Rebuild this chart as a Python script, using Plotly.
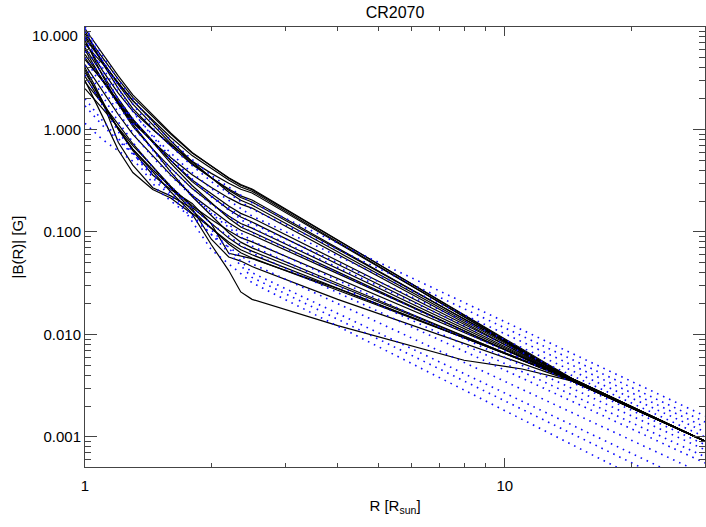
import math
import plotly.graph_objects as go

# ---- data ----
R_BLACK = [1.0, 1.05, 1.1, 1.2, 1.3, 1.45, 1.6, 1.8, 2.0, 2.2, 2.35, 2.5, 4.0, 8.0, 11.0, 14.5, 30.0]

K1 = [8.6, 6.5, 5.0, 3.1, 2.06, 1.32, 0.90, 0.59, 0.44, 0.338, 0.29, 0.263, 0.0836, 0.0154, 0.00706, 0.0036, 0.00091]
K2 = [9.6, 7.18, 5.46, 3.33, 2.18, 1.38, 0.925, 0.597, 0.44, 0.335, 0.286, 0.258, 0.0832, 0.0155, 0.0072, 0.0037, 0.00091]
K3 = [7.8, 5.92, 4.56, 2.84, 1.90, 1.23, 0.84, 0.556, 0.415, 0.321, 0.275, 0.250, 0.080, 0.0148, 0.00685, 0.0035, 0.00091]
K4 = [7.2, 5.12, 3.77, 2.26, 1.51, 1.0, 0.713, 0.49, 0.373, 0.299, 0.261, 0.240, 0.0781, 0.01487, 0.00696, 0.0036, 0.00091]
K5 = [8.2, 6.08, 4.58, 2.75, 1.77, 1.10, 0.733, 0.466, 0.339, 0.256, 0.217, 0.196, 0.0679, 0.01415, 0.0069, 0.0037, 0.00091]
K6 = [6.8, 5.48, 4.41, 2.86, 1.92, 1.20, 0.776, 0.485, 0.338, 0.244, 0.204, 0.183, 0.064, 0.0136, 0.00667, 0.0036, 0.00091]
K7 = [6.0, 4.20, 3.05, 1.79, 1.17, 0.762, 0.533, 0.361, 0.272, 0.215, 0.187, 0.171, 0.0605, 0.0130, 0.00645, 0.0035, 0.00091]
K8 = [5.4, 4.02, 3.04, 1.84, 1.20, 0.75, 0.50, 0.321, 0.235, 0.179, 0.152, 0.137, 0.0523, 0.01253, 0.00652, 0.0037, 0.00091]
K9 = [7.5, 4.91, 3.36, 1.78, 1.07, 0.644, 0.422, 0.265, 0.189, 0.143, 0.121, 0.109, 0.0438, 0.0114, 0.00615, 0.0036, 0.00091]
K10 = [4.8, 3.80, 3.01, 1.90, 1.24, 0.748, 0.470, 0.284, 0.193, 0.136, 0.112, 0.100, 0.0408, 0.01086, 0.00593, 0.0035, 0.00091]
K11 = [4.3, 3.16, 2.37, 1.40, 0.895, 0.551, 0.361, 0.228, 0.164, 0.123, 0.104, 0.0935, 0.0392, 0.0108, 0.0060, 0.0036, 0.00091]
K12 = [3.8, 2.58, 1.82, 1.02, 0.644, 0.405, 0.275, 0.180, 0.132, 0.103, 0.088, 0.080, 0.0352, 0.01045, 0.0060, 0.0037, 0.00091]
K13 = [5.0, 3.87, 3.0, 1.79, 1.12, 0.644, 0.386, 0.222, 0.1445, 0.0984, 0.0796, 0.070, 0.0314, 0.00964, 0.0056, 0.0035, 0.00091]
K14 = [3.3, 2.40, 1.77, 1.02, 0.638, 0.384, 0.247, 0.152, 0.108, 0.080, 0.0671, 0.060, 0.0282, 0.0093, 0.0056, 0.0036, 0.00091]
K15 = [2.9, 2.29, 1.80, 1.12, 0.726, 0.435, 0.270, 0.162, 0.109, 0.0764, 0.0627, 0.0557, 0.0270, 0.00925, 0.00566, 0.0037, 0.00091]
K16 = [4.0, 2.8, 1.9, 0.75, 0.45, 0.27, 0.225, 0.17, 0.085, 0.057, 0.052, 0.046, 0.022, 0.0082, 0.0052, 0.0035, 0.00091]
K17 = [3.0, 2.0, 1.35, 0.63, 0.38, 0.26, 0.215, 0.15, 0.075, 0.042, 0.026, 0.022, 0.0122, 0.0056, 0.0046, 0.0035, 0.00091]
K18 = [2.5, 2.01, 1.61, 1.04, 0.697, 0.434, 0.280, 0.174, 0.121, 0.0871, 0.0726, 0.065, 0.030, 0.00957, 0.00567, 0.0036, 0.00091]
K19 = [9.2, 6.30, 4.47, 2.52, 1.60, 1.01, 0.693, 0.456, 0.337, 0.262, 0.225, 0.205, 0.0697, 0.0141, 0.0068, 0.0036, 0.00091]
K20 = [6.3, 4.60, 3.41, 2.0, 1.26, 0.767, 0.499, 0.310, 0.222, 0.166, 0.140, 0.125, 0.0484, 0.01194, 0.00628, 0.0036, 0.00091]
K21 = [3.6, 2.6, 1.9, 1.0, 0.62, 0.36, 0.26, 0.19, 0.12, 0.062, 0.058, 0.055, 0.028, 0.0092, 0.0056, 0.0036, 0.00091]

BLACK_CURVES = [K1, K2, K3, K4, K5, K6, K7, K8, K9, K10, K11, K12, K13, K14, K15,
                K16, K17, K18, K19, K20, K21]

R_BLUE = [1.0, 1.05, 1.1, 1.2, 1.35, 1.5, 1.75, 2.0, 2.5, 3.5, 5.0, 8.0, 13.0, 20.0, 30.0]

L1 = [10.0, 7.14, 5.32, 3.06, 1.63, 1.01, 0.560, 0.356, 0.193, 0.101, 0.0507, 0.0205, 0.00803, 0.0035, 0.0016]
L2 = [9.0, 6.41, 4.75, 2.72, 1.44, 0.891, 0.490, 0.310, 0.167, 0.0875, 0.0441, 0.0178, 0.0070, 0.00305, 0.0014]
L3 = [7.6, 5.42, 4.03, 2.31, 1.22, 0.759, 0.418, 0.265, 0.143, 0.0752, 0.0381, 0.01556, 0.00617, 0.00271, 0.00125]
L4 = [6.5, 4.63, 3.44, 1.97, 1.04, 0.646, 0.355, 0.224, 0.121, 0.0643, 0.0328, 0.01352, 0.0054, 0.0024, 0.00112]
L5 = [9.6, 6.56, 4.69, 2.51, 1.23, 0.718, 0.367, 0.220, 0.110, 0.0582, 0.0296, 0.0122, 0.00486, 0.00215, 0.0010]
L6 = [5.8, 4.10, 3.02, 1.71, 0.889, 0.546, 0.296, 0.185, 0.0986, 0.0518, 0.0261, 0.0106, 0.00418, 0.00183, 0.00084]
L7 = [5.0, 3.52, 2.59, 1.46, 0.754, 0.460, 0.248, 0.155, 0.0818, 0.0434, 0.0221, 0.0091, 0.00364, 0.00161, 0.00075]
L8 = [8.0, 5.37, 3.78, 1.95, 0.923, 0.525, 0.259, 0.151, 0.073, 0.0385, 0.0195, 0.00794, 0.00315, 0.00139, 0.00064]
L9 = [4.2, 2.94, 2.14, 1.19, 0.607, 0.366, 0.195, 0.120, 0.0625, 0.033, 0.01675, 0.00686, 0.00273, 0.0012, 0.000557]
L10 = [3.4, 2.37, 1.72, 0.953, 0.483, 0.290, 0.154, 0.0944, 0.049, 0.0258, 0.01306, 0.00533, 0.00211, 0.00093, 0.00043]
L11 = [2.0, 1.55, 1.22, 0.82, 0.50, 0.31, 0.165, 0.095, 0.036, 0.01837, 0.0090, 0.00352, 0.00133, 0.00056, 0.00025]
L12 = [1.7, 1.35, 1.10, 0.78, 0.50, 0.33, 0.185, 0.105, 0.040, 0.0208, 0.01035, 0.00414, 0.0016, 0.00069, 0.000315]
L13 = [1.15, 0.95, 0.80, 0.62, 0.44, 0.25, 0.15, 0.067, 0.032, 0.0159, 0.00762, 0.00288, 0.00105, 0.00043, 0.00019]

BLUE_CURVES = [L1, L2, L3, L4, L5, L6, L7, L8, L9, L10, L11, L12, L13]

X_TICKS = [1, 10]
X_TICK_TEXT = ["1", "10"]
X_MINOR = [2, 3, 4, 5, 6, 7, 8, 9, 20, 30]
Y_TICKS = [0.001, 0.01, 0.1, 1, 10]
Y_TICK_TEXT = ["0.001", "0.010", "0.100", "1.000", ""]
Y_TOP_LABEL = "10.000"   # drawn slightly below the top edge, as in the reference
Y_MINOR = [m * d for d in (0.0001, 0.001, 0.01, 0.1, 1) for m in range(2, 10)]

TITLE = "CR2070"
X_TITLE = "R [R<sub>sun</sub>]"
Y_TITLE = "|B(R)| [G]"

# ---- figure ----
fig = go.Figure()
for ys in BLACK_CURVES:
    fig.add_trace(go.Scatter(x=R_BLACK, y=ys, mode="lines",
                             line=dict(color="black", width=1.2),
                             showlegend=False, hoverinfo="skip"))
for ys in BLUE_CURVES:
    fig.add_trace(go.Scatter(x=R_BLUE, y=ys, mode="lines",
                             line=dict(color="rgb(10,10,255)", width=1.6, dash="1.6px,5px"),
                             showlegend=False, hoverinfo="skip"))

FONT = "Liberation Sans, Arial, Helvetica, sans-serif"
axis_common = dict(
    type="log", showgrid=False, zeroline=False,
    showline=True, linecolor="#444", linewidth=1,
    mirror="allticks", ticks="inside", tickcolor="#444",
    tickfont=dict(family=FONT, size=15, color="black"),
)

fig.update_xaxes(**axis_common,
                 range=[0, math.log10(30)],
                 tickmode="array", tickvals=X_TICKS, ticktext=X_TICK_TEXT,
                 ticklen=9, tickwidth=1, ticklabelstandoff=5,
                 minor=dict(tickmode="array", tickvals=X_MINOR, ticks="inside",
                            ticklen=4, tickcolor="#444", showgrid=False),
                 title=dict(text=X_TITLE, font=dict(family=FONT, size=15, color="black"),
                            standoff=7))
fig.update_yaxes(**axis_common,
                 range=[math.log10(0.000509), 1],
                 tickmode="array", tickvals=Y_TICKS, ticktext=Y_TICK_TEXT,
                 ticklen=12, tickwidth=1,
                 minor=dict(tickmode="array", tickvals=Y_MINOR, ticks="inside",
                            ticklen=6, tickcolor="#444", showgrid=False),
                 title=dict(text=Y_TITLE, font=dict(family=FONT, size=15, color="black"),
                            standoff=16))

fig.add_annotation(text=Y_TOP_LABEL, xref="paper", x=0, yref="y", y=math.log10(Y_TICKS[-1]),
                   xanchor="right", yanchor="middle", xshift=-5, yshift=-8, showarrow=False,
                   font=dict(family=FONT, size=15, color="black"))

fig.update_layout(
    width=706, height=527,
    margin=dict(l=85, r=1, t=27, b=60),
    paper_bgcolor="white", plot_bgcolor="white",
    title=dict(text=TITLE, font=dict(family=FONT, size=16, color="black"),
               x=0.5, xref="paper", y=1 - 12 / 527, yref="container",
               xanchor="center", yanchor="middle"),
    font=dict(family=FONT, color="black"),
)

fig.write_html("out.html", config={"displayModeBar": False},
               post_script="document.body.style.margin='0';document.body.style.overflow='hidden';")
